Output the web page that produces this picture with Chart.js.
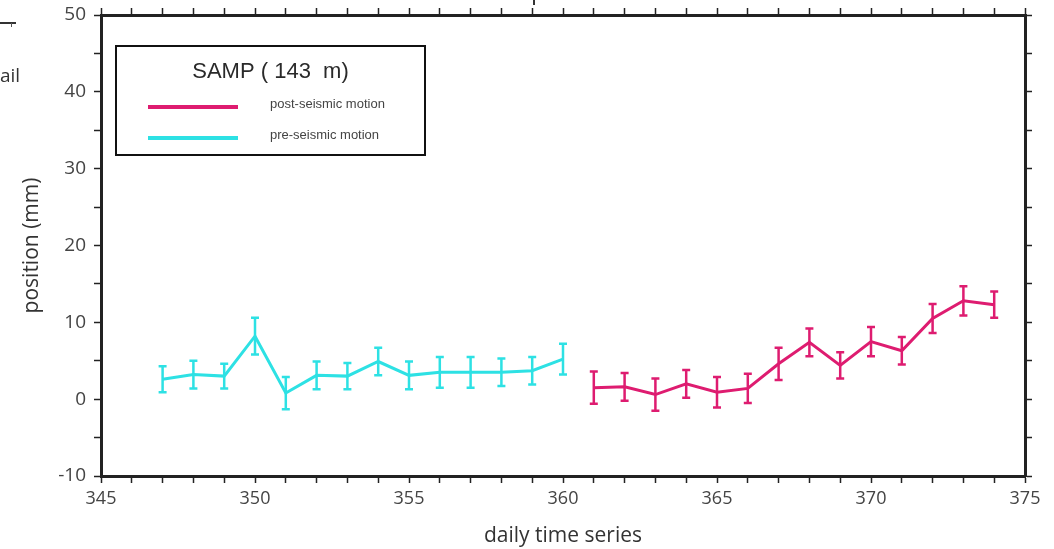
<!DOCTYPE html>
<html lang="en">
<head>
    <meta charset="UTF-8">
    <title>SAMP daily time series</title>
    <script src="https://cdn.jsdelivr.net/npm/chart.js"></script>
    <style>
        html, body { margin: 0; padding: 0; background: #fff; }
        #wrap { position: relative; width: 1054px; height: 549px; overflow: hidden; }
        canvas { display: block; }
        .frag { position: absolute; font-family: "Open Sans", Arial, sans-serif; color: #333; }
    </style>
</head>
<body>
<div id="wrap">
    <canvas id="chart" width="1054" height="549"></canvas>
    <!-- bits of the neighbouring figure cut off at the edges -->
    <div class="frag" style="left:0px;top:62px;font-size:19px;">ail</div>
    <div class="frag" style="left:0px;top:22px;width:16px;border-top:2px solid #333;"></div>
    <div class="frag" style="left:11px;top:23px;height:4px;border-left:1px solid #555;"></div>
    <div class="frag" style="left:533px;top:0px;height:5px;border-left:2px solid #333;"></div>
</div>

<script>
    // pre-seismic days and values (mm) with +/- error
    const preDays = [347, 348, 349, 350, 351, 352, 353, 354, 355, 356, 357, 358, 359, 360];
    const preVals = [2.6, 3.2, 3.0, 8.2, 0.8, 3.1, 3.0, 4.9, 3.1, 3.5, 3.5, 3.5, 3.7, 5.2];
    const preErr  = [1.7, 1.8, 1.6, 2.4, 2.1, 1.8, 1.7, 1.8, 1.8, 2.0, 2.0, 1.8, 1.8, 2.0];

    // post-seismic
    const postDays = [361, 362, 363, 364, 365, 366, 367, 368, 369, 370, 371, 372, 373, 374];
    const postVals = [1.5, 1.6, 0.6, 2.0, 0.9, 1.4, 4.6, 7.4, 4.4, 7.5, 6.3, 10.5, 12.8, 12.3];
    const postErr  = [2.1, 1.8, 2.1, 1.8, 2.0, 1.9, 2.1, 1.8, 1.7, 1.9, 1.8, 1.9, 1.9, 1.7];

    const legendTitle = 'SAMP ( 143  m)';
    const cyan = 'rgb(45, 225, 228)';
    const pink = 'rgb(222, 28, 112)';

    function toPoints(xs, ys) {
        return xs.map((x, i) => ({ x: x, y: ys[i] }));
    }

    // draws vertical error bars with small caps for every line dataset
    const errorBars = {
        id: 'errorBars',
        afterDatasetsDraw(chart) {
            const c = chart.ctx;
            const xs = chart.scales.x, ys = chart.scales.y;
            chart.data.datasets.forEach(ds => {
                if (!ds.err) return;
                c.save();
                c.strokeStyle = ds.borderColor;
                c.lineWidth = 2.5;
                ds.data.forEach((p, i) => {
                    const px = xs.getPixelForValue(p.x);
                    const top = ys.getPixelForValue(p.y + ds.err[i]);
                    const bot = ys.getPixelForValue(p.y - ds.err[i]);
                    c.beginPath();
                    c.moveTo(px, top); c.lineTo(px, bot);
                    c.moveTo(px - 4, top); c.lineTo(px + 4, top);
                    c.moveTo(px - 4, bot); c.lineTo(px + 4, bot);
                    c.stroke();
                });
                c.restore();
            });
        }
    };

    // boxed legend inside the plot, upper left
    const boxLegend = {
        id: 'boxLegend',
        afterDraw(chart) {
            const c = chart.ctx;
            const x0 = 116, y0 = 46, w = 309, h = 109;
            c.save();
            c.fillStyle = '#fff';
            c.fillRect(x0, y0, w, h);
            c.strokeStyle = '#111';
            c.lineWidth = 2;
            c.strokeRect(x0, y0, w, h);
            c.fillStyle = '#2a2a2a';
            c.font = '22px "Liberation Sans", Arial, sans-serif';
            c.textAlign = 'center';
            c.textBaseline = 'middle';
            c.fillText(legendTitle, x0 + w / 2, 72);
            const items = [chart.data.datasets[1], chart.data.datasets[0]];
            items.forEach((ds, i) => {
                const yy = 107 + i * 31;
                c.strokeStyle = ds.borderColor;
                c.lineWidth = 4;
                c.beginPath();
                c.moveTo(148, yy); c.lineTo(238, yy);
                c.stroke();
                c.fillStyle = '#444';
                c.font = '13px "Liberation Sans", Arial, sans-serif';
                c.textAlign = 'left';
                c.fillText(ds.label, 270, yy - 3);
            });
            c.restore();
        }
    };

    const axisColor = '#222';
    const xTickFont = { family: '"Open Sans", "Liberation Sans", Arial, sans-serif', size: 18 };
    const yTickFont = { family: '"Open Sans", "Liberation Sans", Arial, sans-serif', size: 19 };
    const titleFont = { family: '"Open Sans", "Liberation Sans", Arial, sans-serif', size: 21 };

    function frameGrid() {
        return {
            display: true,
            drawOnChartArea: false,
            drawTicks: true,
            tickLength: 7,
            tickWidth: 1.5,
            color: axisColor
        };
    }

    // fixed box sizes so the plot frame lands where it does in the picture
    function fixBox(size) {
        return s => {
            if (s.isHorizontal()) s.height = size; else s.width = size;
            s.paddingTop = 0; s.paddingBottom = 0;
            s.paddingLeft = 0; s.paddingRight = 0;
        };
    }

    const chart = new Chart(document.getElementById('chart').getContext('2d'), {
        type: 'line',
        data: {
            datasets: [
                {
                    label: 'pre-seismic motion',
                    data: toPoints(preDays, preVals),
                    err: preErr,
                    borderColor: cyan,
                    borderWidth: 3,
                    pointRadius: 0,
                    tension: 0,
                    fill: false
                },
                {
                    label: 'post-seismic motion',
                    data: toPoints(postDays, postVals),
                    err: postErr,
                    borderColor: pink,
                    borderWidth: 3,
                    pointRadius: 0,
                    tension: 0,
                    fill: false
                }
            ]
        },
        options: {
            responsive: false,
            animation: false,
            layout: { padding: 0 },
            plugins: {
                legend: { display: false },
                tooltip: { enabled: false }
            },
            scales: {
                x: {
                    type: 'linear',
                    position: 'bottom',
                    min: 345, max: 375,
                    ticks: {
                        stepSize: 1,
                        autoSkip: false,
                        maxRotation: 0,
                        padding: 5,
                        color: '#444',
                        font: xTickFont,
                        callback: v => (v % 5 === 0 ? String(v) : '')
                    },
                    grid: frameGrid(),
                    border: { display: true, color: axisColor, width: 3 },
                    title: {
                        display: true,
                        text: 'daily time series',
                        color: '#333',
                        font: titleFont,
                        padding: { top: 6, bottom: 0 }
                    },
                    afterFit: fixBox(73)
                },
                xTop: {
                    type: 'linear',
                    position: 'top',
                    min: 345, max: 375,
                    ticks: { display: false, stepSize: 1 },
                    grid: frameGrid(),
                    border: { display: true, color: axisColor, width: 3 },
                    afterFit: fixBox(15)
                },
                y: {
                    type: 'linear',
                    position: 'left',
                    min: -10, max: 50,
                    ticks: {
                        stepSize: 5,
                        padding: 8,
                        color: '#444',
                        font: yTickFont,
                        callback: v => (v % 10 === 0 ? String(v) : '')
                    },
                    grid: frameGrid(),
                    border: { display: true, color: axisColor, width: 3 },
                    title: {
                        display: true,
                        text: 'position (mm)',
                        color: '#333',
                        font: titleFont,
                        padding: { top: 19, bottom: 6 }
                    },
                    afterFit: fixBox(101)
                },
                yRight: {
                    type: 'linear',
                    position: 'right',
                    min: -10, max: 50,
                    ticks: { display: false, stepSize: 5 },
                    grid: frameGrid(),
                    border: { display: true, color: axisColor, width: 3 },
                    afterFit: fixBox(29)
                }
            }
        },
        plugins: [errorBars, boxLegend]
    });
</script>
</body>
</html>
